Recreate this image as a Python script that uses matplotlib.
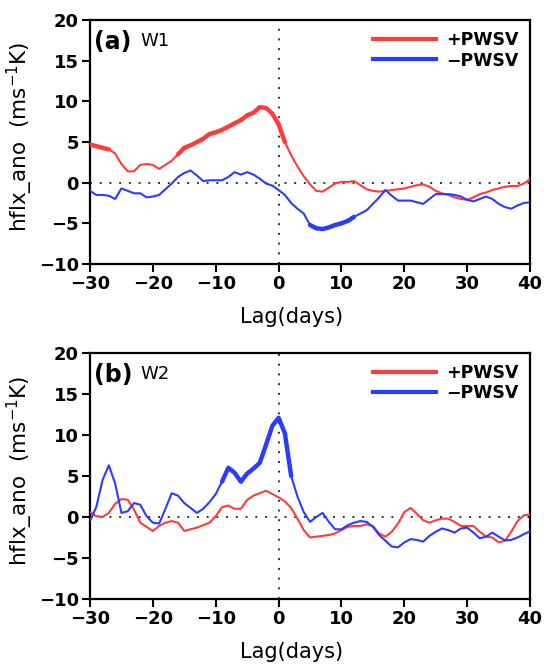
import numpy as np
import matplotlib
matplotlib.use("Agg")
import matplotlib.pyplot as plt
from matplotlib.lines import Line2D

lag = np.arange(-30, 41)

# W1 composites
w1_pos = [4.7, 4.5, 4.3, 4.1, 3.6, 2.3, 1.4, 1.4, 2.2, 2.3,
          2.2, 1.7, 2.2, 2.7, 3.5, 4.3, 4.6, 5.0, 5.4, 6.0,
          6.2, 6.5, 6.9, 7.3, 7.7, 8.3, 8.6, 9.3, 9.2, 8.5,
          7.2, 5.0, 3.4, 2.0, 0.8, -0.2, -1.0, -1.1, -0.6, -0.1,
          0.1, 0.1, 0.2, -0.3, -0.8, -1.0, -1.1, -1.0, -0.9, -0.8,
          -0.7, -0.5, -0.3, -0.2, -0.5, -1.0, -1.3, -1.5, -1.8, -2.0,
          -2.1, -1.8, -1.4, -1.2, -0.9, -0.7, -0.5, -0.4, -0.4, -0.1,
          0.45]
w1_neg = [-1.0, -1.5, -1.5, -1.6, -2.0, -0.7, -1.0, -1.3, -1.3, -1.8,
          -1.7, -1.5, -0.8, -0.1, 0.7, 1.2, 1.5, 0.9, 0.2, 0.3,
          0.3, 0.3, 0.7, 1.3, 1.0, 1.3, 1.0, 0.5, -0.1, -0.35,
          -0.9, -1.5, -2.5, -3.2, -3.8, -5.2, -5.6, -5.7, -5.5, -5.2,
          -5.0, -4.7, -4.2, -3.8, -3.4, -2.6, -1.8, -0.9, -1.6, -2.2,
          -2.2, -2.2, -2.4, -2.6, -2.0, -1.4, -1.4, -1.4, -1.5, -1.7,
          -2.1, -2.3, -2.0, -1.7, -2.0, -2.6, -3.0, -3.2, -2.8, -2.5,
          -2.4]

# W2 composites
w2_pos = [0.6, 0.1, 0.0, 0.5, 1.6, 2.2, 2.1, 0.9, -0.7, -1.2,
          -1.7, -1.1, -0.7, -0.5, -0.7, -1.7, -1.5, -1.3, -1.0, -0.7,
          0.1, 1.2, 1.4, 1.0, 1.0, 2.1, 2.6, 2.9, 3.2, 2.8,
          2.4, 1.9, 1.1, -0.2, -1.6, -2.5, -2.4, -2.3, -2.2, -2.0,
          -1.6, -1.2, -1.1, -1.1, -0.9, -1.1, -2.0, -2.4, -1.8, -0.8,
          0.6, 1.1, 0.4, -0.4, -0.7, -0.4, -0.2, -0.2, -0.6, -1.1,
          -1.1, -1.1, -1.8, -2.4, -2.5, -3.1, -2.9, -1.8, -0.5, 0.2,
          0.3]
w2_neg = [-0.5, 1.2, 4.5, 6.3, 4.1, 0.5, 0.7, 1.7, 1.5, 0.1,
          -0.7, -0.8, 1.0, 2.9, 2.6, 1.7, 1.1, 0.5, 1.0, 1.8,
          2.8, 4.3, 6.0, 5.4, 4.3, 5.3, 5.9, 6.6, 8.8, 11.1,
          12.1, 10.2, 5.0, 2.5, 0.6, -0.6, 0.0, 0.5, -0.6, -1.5,
          -1.5, -1.0, -0.7, -0.5, -0.6, -1.2, -2.2, -2.9, -3.6, -3.7,
          -3.1, -2.7, -2.8, -3.0, -2.3, -1.8, -1.4, -1.6, -1.9, -1.4,
          -1.3, -1.9, -2.6, -2.4, -1.9, -2.4, -2.85, -2.8, -2.5, -2.1,
          -1.75]

# lag ranges where the composite is significant (drawn thick)
w1_pos_sig = [(-30, -27), (-16, 1)]
w1_neg_sig = [(5, 12)]
w2_pos_sig = []
w2_neg_sig = [(-9, 2)]

RED = "#ff3c3c"
BLUE = "#2a3cff"


def draw_series(ax, y, sig, color):
    y = np.asarray(y, dtype=float)
    ax.plot(lag, y, color=color, lw=1.5, solid_capstyle="round", zorder=3)
    for a, b in sig:
        yy = np.where((lag >= a) & (lag <= b), y, np.nan)
        ax.plot(lag, yy, color=color, lw=3.2, solid_capstyle="round", zorder=4)


def style_axes(ax, tag, name):
    ax.set_xlim(-30, 40)
    ax.set_ylim(-10, 20)
    ax.set_xticks(range(-30, 41, 10))
    ax.set_yticks(range(-10, 21, 5))
    ax.set_xticklabels([str(v).replace("-", "\u2212") for v in range(-30, 41, 10)])
    ax.set_yticklabels([str(v).replace("-", "\u2212") for v in range(-10, 21, 5)])
    for lab in ax.get_xticklabels() + ax.get_yticklabels():
        lab.set_fontweight("bold")
        lab.set_fontsize(13)
    ax.tick_params(direction="out", length=6, width=1.5, pad=2)
    for sp in ax.spines.values():
        sp.set_linewidth(1.6)
    ax.axhline(0, color="#333333", ls=(0, (1, 4)), lw=1.4, zorder=2)
    ax.axvline(0, color="#333333", ls=(0, (1, 4)), lw=1.4, zorder=2)
    ax.set_xlabel("Lag(days)", fontsize=15)
    ax.xaxis.set_label_coords(0.457, -0.175)
    ax.set_ylabel(r"hflx_ano  (ms$^{-1}$K)", fontsize=15.5)
    ax.yaxis.set_label_coords(-0.125, 0.52)
    ax.text(0.01, 0.96, tag, transform=ax.transAxes, fontsize=17,
            fontweight="bold", va="top", ha="left")
    ax.text(0.115, 0.95, name, transform=ax.transAxes, fontsize=13,
            va="top", ha="left")
    handles = [Line2D([], [], color=RED, lw=3),
               Line2D([], [], color=BLUE, lw=3)]
    leg = ax.legend(handles, ["+PWSV", "\u2212PWSV"], loc="upper right",
                    frameon=False, fontsize=12.5, handlelength=3.6,
                    borderaxespad=0.25, labelspacing=0.12, handletextpad=0.6)
    for t in leg.get_texts():
        t.set_fontweight("bold")


fig = plt.figure(figsize=(5.44, 6.68), dpi=100)
ax1 = fig.add_axes([0.1654, 0.6048, 0.809, 0.365])
ax2 = fig.add_axes([0.1654, 0.1033, 0.809, 0.3683])

draw_series(ax1, w1_pos, w1_pos_sig, RED)
draw_series(ax1, w1_neg, w1_neg_sig, BLUE)
style_axes(ax1, "(a)", "W1")

draw_series(ax2, w2_pos, w2_pos_sig, RED)
draw_series(ax2, w2_neg, w2_neg_sig, BLUE)
style_axes(ax2, "(b)", "W2")

fig.savefig("out.png", dpi=100)
